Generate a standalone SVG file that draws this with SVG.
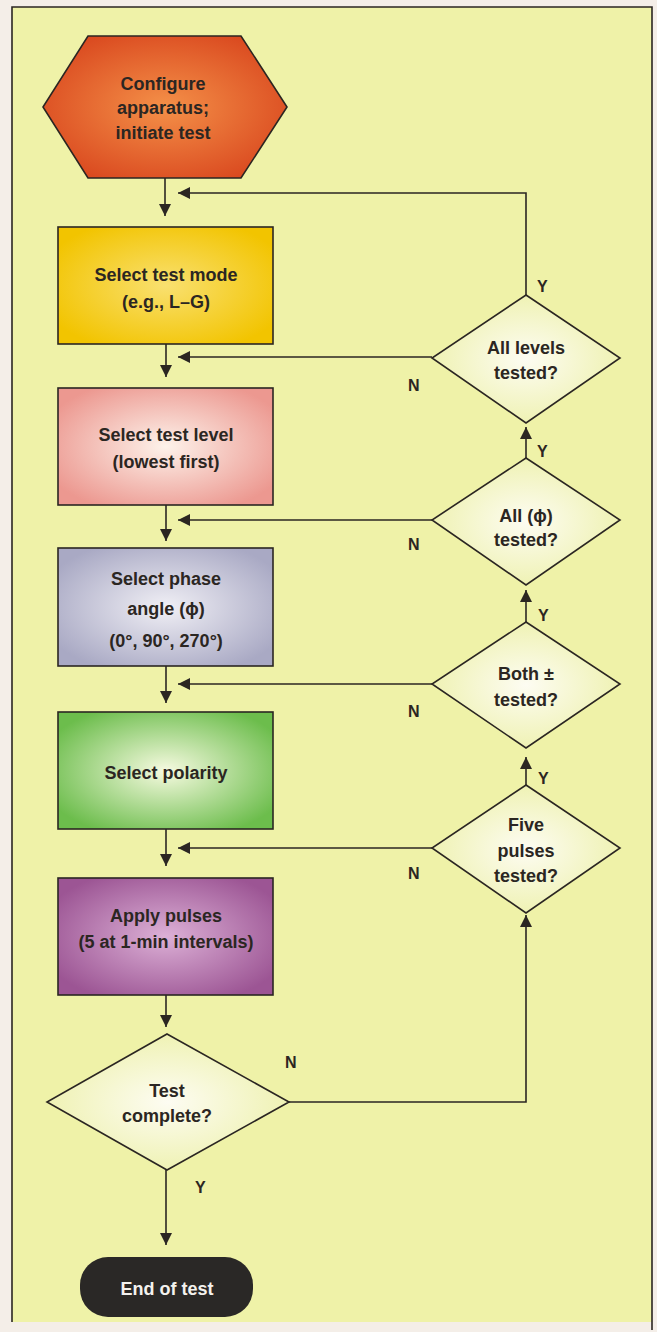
<svg xmlns="http://www.w3.org/2000/svg" width="657" height="1332" viewBox="0 0 657 1332">
<style>
.t{font-family:"Liberation Sans",Arial,sans-serif;font-weight:bold;font-size:18px;fill:#2b2622;text-anchor:middle}
.lbl{font-family:"Liberation Sans",Arial,sans-serif;font-weight:bold;font-size:16px;fill:#2b2622}
.box{stroke:#2b2622;stroke-width:1.6}
.c{fill:none;stroke:#2b2622;stroke-width:1.6}
</style>
<defs>
<marker id="ah" markerUnits="userSpaceOnUse" markerWidth="13" markerHeight="12" refX="12" refY="6" orient="auto"><path d="M0,0 L12,6 L0,12 z" fill="#2b2622"/></marker>
<radialGradient id="gHex" cx="0.5" cy="0.5" r="0.6"><stop offset="0" stop-color="#f49048"/><stop offset="1" stop-color="#d9471e"/></radialGradient>
<radialGradient id="gYel" cx="0.5" cy="0.5" r="0.6"><stop offset="0" stop-color="#f9e070"/><stop offset="1" stop-color="#f2c400"/></radialGradient>
<radialGradient id="gPink" cx="0.5" cy="0.5" r="0.6"><stop offset="0" stop-color="#fdf2ea"/><stop offset="1" stop-color="#ec9890"/></radialGradient>
<radialGradient id="gLav" cx="0.5" cy="0.5" r="0.6"><stop offset="0" stop-color="#f0eff5"/><stop offset="1" stop-color="#a9a9c4"/></radialGradient>
<radialGradient id="gGrn" cx="0.5" cy="0.5" r="0.6"><stop offset="0" stop-color="#f6fae0"/><stop offset="1" stop-color="#6cbd4c"/></radialGradient>
<radialGradient id="gPur" cx="0.5" cy="0.5" r="0.6"><stop offset="0" stop-color="#dcb0d6"/><stop offset="1" stop-color="#9c5594"/></radialGradient>
<radialGradient id="gDia" cx="0.5" cy="0.5" r="0.5"><stop offset="0" stop-color="#fdfcf2"/><stop offset="1" stop-color="#eff2b4"/></radialGradient>
</defs>
<rect x="0" y="0" width="657" height="1332" fill="#f4eee8"/>
<rect x="12" y="7" width="640" height="1315" fill="#eff2a8"/>
<path d="M12,1322 V7 H652 V1330" fill="none" stroke="#2b2622" stroke-width="1.6"/>

<g id="connectors">
<line class="c" x1="165" y1="178" x2="165" y2="216" marker-end="url(#ah)"/>
<line class="c" x1="166" y1="344" x2="166" y2="377" marker-end="url(#ah)"/>
<line class="c" x1="166" y1="505" x2="166" y2="541" marker-end="url(#ah)"/>
<line class="c" x1="166" y1="666" x2="166" y2="703" marker-end="url(#ah)"/>
<line class="c" x1="166" y1="829" x2="166" y2="866" marker-end="url(#ah)"/>
<line class="c" x1="166" y1="995" x2="166" y2="1027" marker-end="url(#ah)"/>
<line class="c" x1="166" y1="1170" x2="166" y2="1245" marker-end="url(#ah)"/>
<polyline class="c" points="289,1102 526,1102 526,915" marker-end="url(#ah)"/>
<line class="c" x1="526" y1="785" x2="526" y2="757" marker-end="url(#ah)"/>
<line class="c" x1="526" y1="622" x2="526" y2="590" marker-end="url(#ah)"/>
<line class="c" x1="526" y1="458" x2="526" y2="427" marker-end="url(#ah)"/>
<polyline class="c" points="526,295 526,193 178,193" marker-end="url(#ah)"/>
<line class="c" x1="432" y1="357" x2="178" y2="357" marker-end="url(#ah)"/>
<line class="c" x1="432" y1="520" x2="178" y2="520" marker-end="url(#ah)"/>
<line class="c" x1="432" y1="684" x2="178" y2="684" marker-end="url(#ah)"/>
<line class="c" x1="432" y1="848" x2="178" y2="848" marker-end="url(#ah)"/>
<text class="lbl" x="537" y="292">Y</text>
<text class="lbl" x="537" y="457">Y</text>
<text class="lbl" x="538" y="621">Y</text>
<text class="lbl" x="538" y="784">Y</text>
<text class="lbl" x="408" y="391">N</text>
<text class="lbl" x="408" y="550">N</text>
<text class="lbl" x="408" y="717">N</text>
<text class="lbl" x="408" y="879">N</text>
<text class="lbl" x="285" y="1068">N</text>
<text class="lbl" x="195" y="1193">Y</text>
</g>

<g id="start">
<polygon class="box" points="88,36 241,36 287,107 241,178 88,178 43,107" fill="url(#gHex)"/>
<text class="t" x="163" y="90">Configure</text>
<text class="t" x="163" y="114">apparatus;</text>
<text class="t" x="163" y="139">initiate test</text>
</g>

<g id="mode">
<rect class="box" x="58" y="227" width="215" height="117" fill="url(#gYel)"/>
<text class="t" x="166" y="281">Select test mode</text>
<text class="t" x="166" y="308">(e.g., L–G)</text>
</g>

<g id="level">
<rect class="box" x="58" y="388" width="215" height="117" fill="url(#gPink)"/>
<text class="t" x="166" y="441">Select test level</text>
<text class="t" x="166" y="468">(lowest first)</text>
</g>

<g id="phase">
<rect class="box" x="58" y="548" width="215" height="118" fill="url(#gLav)"/>
<text class="t" x="166" y="585">Select phase</text>
<text class="t" x="166" y="615">angle (ϕ)</text>
<text class="t" x="166" y="647">(0°, 90°, 270°)</text>
</g>

<g id="polarity">
<rect class="box" x="58" y="712" width="215" height="117" fill="url(#gGrn)"/>
<text class="t" x="166" y="779">Select polarity</text>
</g>

<g id="pulses">
<rect class="box" x="58" y="878" width="215" height="117" fill="url(#gPur)"/>
<text class="t" x="166" y="922">Apply pulses</text>
<text class="t" x="166" y="948">(5 at 1-min intervals)</text>
</g>

<g id="complete">
<polygon class="box" points="167,1034 289,1102 167,1170 47,1102" fill="url(#gDia)"/>
<text class="t" x="167" y="1097">Test</text>
<text class="t" x="167" y="1122">complete?</text>
</g>

<g id="end">
<rect x="80" y="1257" width="173" height="60" rx="28" fill="#2a2826"/>
<text class="t" x="167" y="1295" style="fill:#f4f2ee">End of test</text>
</g>

<g id="allLevels">
<polygon class="box" points="526,295 620,358 526,423 432,358" fill="url(#gDia)"/>
<text class="t" x="526" y="354">All levels</text>
<text class="t" x="526" y="379">tested?</text>
</g>

<g id="allPhase">
<polygon class="box" points="526,458 620,520 526,585 432,520" fill="url(#gDia)"/>
<text class="t" x="526" y="522">All (ϕ)</text>
<text class="t" x="526" y="546">tested?</text>
</g>

<g id="bothPol">
<polygon class="box" points="526,622 620,684 526,748 432,684" fill="url(#gDia)"/>
<text class="t" x="526" y="680">Both ±</text>
<text class="t" x="526" y="706">tested?</text>
</g>

<g id="fivePulses">
<polygon class="box" points="526,785 620,848 526,913 432,848" fill="url(#gDia)"/>
<text class="t" x="526" y="831">Five</text>
<text class="t" x="526" y="857">pulses</text>
<text class="t" x="526" y="882">tested?</text>
</g>
</svg>
